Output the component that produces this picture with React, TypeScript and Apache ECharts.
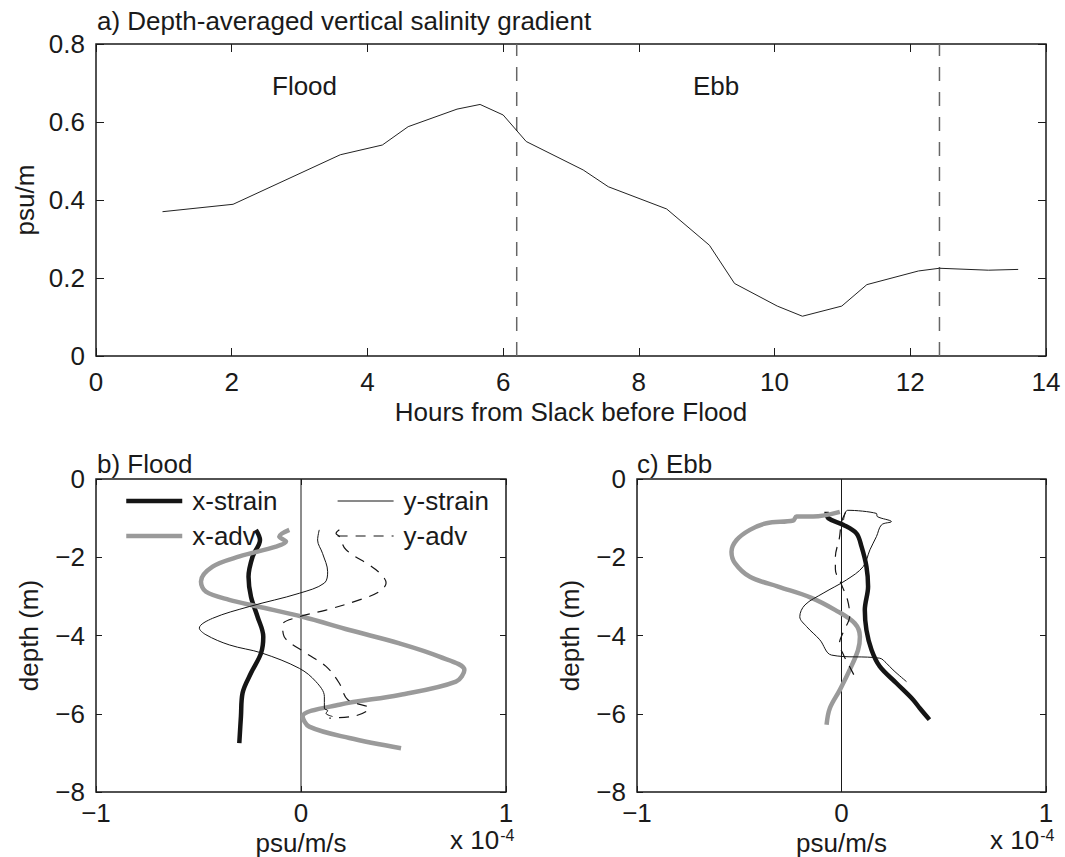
import React, { useEffect, useRef } from "react";
import * as echarts from "echarts";

const FONT = '"Liberation Sans", Arial, Helvetica, sans-serif';
const INK = "#1a1a1a";
const FS = 26;

// Panel a: depth-averaged vertical salinity gradient
const hours = [0.98, 2.02, 3.6, 4.22, 4.6, 5.32, 5.66, 6.0, 6.34, 7.18, 7.55, 8.41, 9.04, 9.41, 10.04, 10.41, 10.99, 11.36, 12.12, 12.43, 13.15, 13.59];
const gradient = [0.37, 0.389, 0.516, 0.541, 0.588, 0.633, 0.645, 0.618, 0.55, 0.477, 0.434, 0.377, 0.284, 0.186, 0.128, 0.102, 0.128, 0.183, 0.218, 0.225, 0.22, 0.222];
const slackHours = [6.2, 12.43];
const phaseLabels = ["Flood", "Ebb"];

// Panel b: Flood profiles [value (x1e-4 psu/m/s), depth (m)]
const floodXStrain = [[-0.22, -1.3], [-0.2, -1.56], [-0.236, -1.98], [-0.256, -2.5], [-0.244, -3.01], [-0.212, -3.52], [-0.184, -4.03], [-0.195, -4.45], [-0.244, -4.96], [-0.285, -5.47], [-0.293, -6.07], [-0.301, -6.75]];
const floodXAdv = [[-0.057, -1.3], [-0.106, -1.47], [-0.073, -1.6], [-0.122, -1.73], [-0.3, -1.98], [-0.431, -2.24], [-0.488, -2.62], [-0.464, -2.88], [-0.35, -3.09], [-0.21, -3.26], [0.008, -3.52], [0.236, -3.86], [0.48, -4.2], [0.675, -4.54], [0.797, -4.88], [0.756, -5.18], [0.48, -5.52], [0.187, -5.77], [0.008, -6.07], [0.04, -6.33], [0.236, -6.62], [0.488, -6.88]];
const floodYStrain = [[0.089, -1.3], [0.081, -1.56], [0.105, -1.9], [0.13, -2.37], [0.114, -2.66], [-0.008, -2.92], [-0.252, -3.26], [-0.431, -3.56], [-0.496, -3.81], [-0.464, -3.98], [-0.35, -4.24], [-0.19, -4.45], [-0.008, -4.84], [0.073, -5.18], [0.114, -5.56], [0.114, -5.86], [0.13, -5.92], [0.122, -5.99], [0.154, -6.07]];
const floodYAdv = [[0.187, -1.3], [0.171, -1.39], [0.187, -1.47], [0.22, -1.81], [0.366, -2.32], [0.415, -2.66], [0.382, -2.88], [0.285, -3.09], [0.122, -3.35], [-0.008, -3.52], [-0.09, -3.73], [-0.082, -4.03], [0.024, -4.45], [0.122, -4.79], [0.187, -5.22], [0.228, -5.64], [0.333, -5.86], [0.268, -6.05], [0.138, -6.11]];

// Panel c: Ebb profiles
const ebbXStrain = [[-0.073, -0.84], [-0.065, -1.0], [0.008, -1.17], [0.073, -1.39], [0.098, -1.73], [0.122, -2.24], [0.13, -2.75], [0.114, -3.35], [0.122, -3.86], [0.147, -4.37], [0.187, -4.79], [0.269, -5.22], [0.35, -5.64], [0.383, -5.86], [0.43, -6.15]];
const ebbXAdv = [[-0.008, -0.84], [-0.139, -0.96], [-0.22, -0.96], [-0.236, -1.06], [-0.367, -1.13], [-0.448, -1.3], [-0.513, -1.56], [-0.538, -1.86], [-0.521, -2.15], [-0.448, -2.5], [-0.31, -2.75], [-0.15, -3.03], [-0.03, -3.35], [0.065, -3.69], [0.09, -4.03], [0.081, -4.37], [0.04, -4.88], [-0.008, -5.39], [-0.057, -5.86], [-0.073, -6.28]];
const ebbYStrain = [[0.01, -1.05], [0.03, -0.8], [0.171, -0.88], [0.175, -0.96], [0.244, -1.09], [0.196, -1.17], [0.171, -1.47], [0.139, -1.81], [0.106, -2.24], [0.024, -2.58], [-0.09, -2.92], [-0.179, -3.22], [-0.204, -3.52], [-0.171, -3.77], [-0.106, -4.11], [-0.049, -4.5], [0.187, -4.58], [0.22, -4.71], [0.252, -4.88], [0.318, -5.18]];
const ebbYAdv = [[0.02, -0.85], [0.0, -1.1], [-0.01, -1.5], [-0.03, -2.0], [-0.03, -2.3], [0.0, -2.7], [0.03, -3.1], [0.04, -3.5], [0.01, -3.9], [-0.01, -4.2], [0.01, -4.5], [0.04, -4.8], [0.06, -5.0]];

const seriesNames = ["x-strain", "x-adv", "y-strain", "y-adv"];
const seriesStyles = [
  { color: "#151515", width: 4.5, type: "solid" as any },
  { color: "#9a9a9a", width: 4.5, type: "solid" as any },
  { color: "#151515", width: 1, type: "solid" as any },
  { color: "#151515", width: 1.2, type: [10, 8] as any },
];

const minus = (v: number) => String(v).replace("-", "\u2212");

const labelStyle = { fontSize: FS, color: INK, fontFamily: FONT };

function xPair(gridIndex: number, min: number, max: number, interval: number, name: string, nameGap: number, tickLen: number, margin: number, fmt?: any) {
  return [
    {
      type: "value", gridIndex, min, max, interval, position: "bottom",
      name, nameLocation: "middle", nameGap,
      nameTextStyle: { ...labelStyle },
      axisLine: { show: false, onZero: false },
      axisTick: { inside: true, length: tickLen, lineStyle: { color: INK, width: 1 } },
      axisLabel: { ...labelStyle, margin, formatter: fmt },
      splitLine: { show: false },
    },
    {
      type: "value", gridIndex, min, max, interval, position: "top",
      axisLine: { show: false, onZero: false },
      axisTick: { inside: true, length: tickLen, lineStyle: { color: INK, width: 1 } },
      axisLabel: { show: false },
      splitLine: { show: false },
    },
  ];
}

function yPair(gridIndex: number, min: number, max: number, interval: number, name: string, nameGap: number, tickLen: number, fmt?: any) {
  return [
    {
      type: "value", gridIndex, min, max, interval, position: "left",
      name, nameLocation: "middle", nameGap, nameRotate: 90,
      nameTextStyle: { ...labelStyle },
      axisLine: { show: false, onZero: false },
      axisTick: { inside: true, length: tickLen, lineStyle: { color: INK, width: 1 } },
      axisLabel: { ...labelStyle, margin: 11, formatter: fmt },
      splitLine: { show: false },
    },
    {
      type: "value", gridIndex, min, max, interval, position: "right",
      axisLine: { show: false, onZero: false },
      axisTick: { inside: true, length: tickLen, lineStyle: { color: INK, width: 1 } },
      axisLabel: { show: false },
      splitLine: { show: false },
    },
  ];
}

function profileSeries(xi: number, yi: number, data: number[][][]) {
  return data.map((d, i) => ({
    type: "line", name: seriesNames[i], xAxisIndex: xi, yAxisIndex: yi,
    data: d, showSymbol: false, symbol: "none", smooth: 0.35,
    lineStyle: { ...seriesStyles[i] }, itemStyle: { color: seriesStyles[i].color },
    z: 3 + i,
  }));
}

function zeroLine(xi: number, yi: number) {
  return {
    type: "line", xAxisIndex: xi, yAxisIndex: yi, data: [[0, 0], [0, -8]],
    showSymbol: false, symbol: "none", silent: true,
    lineStyle: { color: INK, width: 1 }, z: 2,
  };
}

function legendItems(names: string[]) {
  return names.map((n) => {
    const s = seriesStyles[seriesNames.indexOf(n)];
    return {
      name: n,
      itemStyle: { opacity: 0, color: "transparent", borderWidth: 0 },
      lineStyle: { color: s.color, width: s.width, type: s.type, opacity: 1 },
    };
  });
}

const legendBase = {
  orient: "vertical", top: 488, padding: 0,
  itemWidth: 56, itemHeight: 14, itemGap: 9,
  textStyle: { ...labelStyle, padding: [0, 0, 0, 5] }, selectedMode: false,
  itemStyle: { opacity: 0 },
};

const supText = (x: number) => ({
  type: "text", left: x, top: 827,
  style: {
    text: "x 10{sup|-4}", font: `${FS}px ${FONT}`, fill: INK,
    rich: { sup: { fontSize: 16, fontFamily: FONT, fill: INK, verticalAlign: "top", padding: [0, 0, 6, 1] } },
  },
});

const option: any = {
  animation: false,
  backgroundColor: "#fff",
  textStyle: { fontFamily: FONT },
  title: [
    { text: "a) Depth-averaged vertical salinity gradient", left: 97, top: 8, padding: 0, textStyle: { ...labelStyle, fontWeight: "normal" } },
    { text: "b) Flood", left: 97, top: 451, padding: 0, textStyle: { ...labelStyle, fontWeight: "normal" } },
    { text: "c) Ebb", left: 637, top: 451, padding: 0, textStyle: { ...labelStyle, fontWeight: "normal" } },
  ],
  grid: [
    { left: 96, top: 44, width: 950, height: 312, show: true, borderColor: INK, borderWidth: 1.5, backgroundColor: "transparent" },
    { left: 96, top: 479, width: 410, height: 313, show: true, borderColor: INK, borderWidth: 1.5, backgroundColor: "transparent" },
    { left: 637, top: 479, width: 409, height: 313, show: true, borderColor: INK, borderWidth: 1.5, backgroundColor: "transparent" },
  ],
  xAxis: [
    ...xPair(0, 0, 14, 2, "Hours from Slack before Flood", 43, 8, 13),
    ...xPair(1, -1, 1, 1, "psu/m/s", 38, 6, 8, minus),
    ...xPair(2, -1, 1, 1, "psu/m/s", 38, 6, 8, minus),
  ],
  yAxis: [
    ...yPair(0, 0, 0.8, 0.2, "psu/m", 54, 8),
    ...yPair(1, -8, 0, 2, "depth (m)", 54, 6, minus),
    ...yPair(2, -8, 0, 2, "depth (m)", 54, 6, minus),
  ],
  legend: [
    { ...legendBase, left: 124, data: legendItems(["x-strain", "x-adv"]) },
    { ...legendBase, left: 337, data: legendItems(["y-strain", "y-adv"]) },
  ],
  graphic: [
    { type: "text", left: 272, top: 73, style: { text: phaseLabels[0], font: `${FS}px ${FONT}`, fill: INK } },
    { type: "text", left: 693, top: 73, style: { text: phaseLabels[1], font: `${FS}px ${FONT}`, fill: INK } },
    supText(450),
    supText(990),
  ],
  series: [
    ...slackHours.map((h) => ({
      type: "line", xAxisIndex: 0, yAxisIndex: 0, data: [[h, 0], [h, 0.8]],
      showSymbol: false, symbol: "none", silent: true,
      lineStyle: { color: "#666", width: 1.5, type: [14, 11] }, z: 2,
    })),
    {
      type: "line", name: "gradient", xAxisIndex: 0, yAxisIndex: 0,
      data: hours.map((h, i) => [h, gradient[i]]),
      showSymbol: false, symbol: "none",
      lineStyle: { color: "#222", width: 1 }, z: 3,
    },
    zeroLine(2, 2),
    ...profileSeries(2, 2, [floodXStrain, floodXAdv, floodYStrain, floodYAdv]),
    zeroLine(4, 4),
    ...profileSeries(4, 4, [ebbXStrain, ebbXAdv, ebbYStrain, ebbYAdv]),
  ],
};

export default function App() {
  const ref = useRef<HTMLDivElement>(null);
  useEffect(() => {
    document.body.style.margin = "0";
    const chart = echarts.init(ref.current!, null, { renderer: "svg" });
    chart.setOption(option);
    return () => chart.dispose();
  }, []);
  return <div ref={ref} style={{ width: 1065, height: 857 }} />;
}
